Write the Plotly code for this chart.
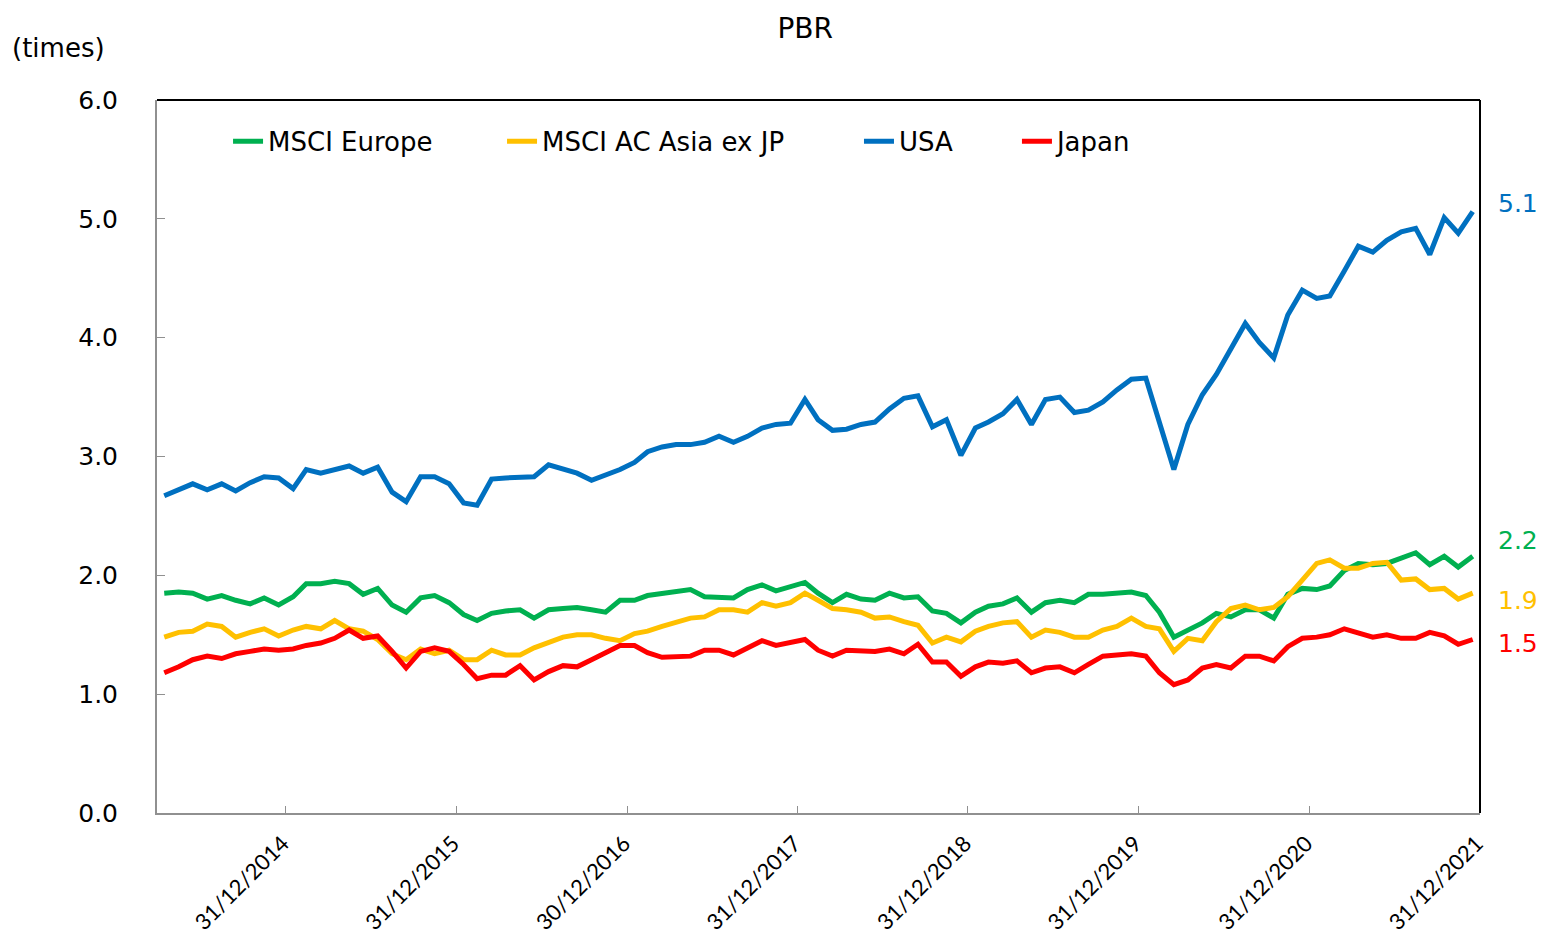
import pandas as pd
import plotly.graph_objects as go

# ---- data -------------------------------------------------------------
dates = pd.date_range("2014-04-30", periods=93, freq="ME")

msci_europe = [1.85, 1.86, 1.85, 1.80, 1.83, 1.79, 1.76, 1.81, 1.75, 1.82,
               1.93, 1.93, 1.95, 1.93, 1.84, 1.89, 1.75, 1.69, 1.81, 1.83,
               1.77, 1.67, 1.62, 1.68, 1.70, 1.71, 1.64, 1.71, 1.72, 1.73,
               1.71, 1.69, 1.79, 1.79, 1.83, 1.85, 1.87, 1.88, 1.82, 1.81,
               1.81, 1.88, 1.92, 1.87, 1.91, 1.94, 1.85, 1.77, 1.84, 1.80,
               1.79, 1.85, 1.81, 1.82, 1.70, 1.68, 1.60, 1.69, 1.74, 1.76,
               1.81, 1.69, 1.77, 1.79, 1.77, 1.84, 1.84, 1.85, 1.86, 1.83,
               1.69, 1.48, 1.54, 1.60, 1.68, 1.65, 1.71, 1.71, 1.64, 1.84,
               1.89, 1.88, 1.91, 2.04, 2.10, 2.09, 2.10, 2.14, 2.19, 2.09,
               2.16, 2.07, 2.16]

msci_asia = [1.48, 1.52, 1.53, 1.59, 1.57, 1.48, 1.52, 1.55, 1.49, 1.54,
             1.57, 1.55, 1.62, 1.55, 1.53, 1.46, 1.34, 1.29, 1.38, 1.34,
             1.37, 1.29, 1.29, 1.37, 1.33, 1.33, 1.39, 1.44, 1.48, 1.50,
             1.50, 1.47, 1.45, 1.51, 1.53, 1.57, 1.60, 1.64, 1.65, 1.71,
             1.71, 1.69, 1.77, 1.74, 1.77, 1.85, 1.79, 1.72, 1.71, 1.69,
             1.64, 1.65, 1.61, 1.58, 1.43, 1.48, 1.44, 1.53, 1.57, 1.60,
             1.61, 1.48, 1.54, 1.52, 1.48, 1.48, 1.54, 1.57, 1.64, 1.57,
             1.55, 1.36, 1.47, 1.45, 1.61, 1.72, 1.75, 1.71, 1.73, 1.82,
             1.96, 2.10, 2.13, 2.06, 2.06, 2.10, 2.11, 1.96, 1.97, 1.88,
             1.89, 1.80, 1.85]

usa = [2.67, 2.72, 2.77, 2.72, 2.77, 2.71, 2.78, 2.83, 2.82, 2.73,
       2.89, 2.86, 2.89, 2.92, 2.86, 2.91, 2.70, 2.62, 2.83, 2.83,
       2.77, 2.61, 2.59, 2.81, 2.82, 2.83, 2.83, 2.93, 2.89, 2.86,
       2.80, 2.84, 2.89, 2.95, 3.04, 3.08, 3.10, 3.10, 3.12, 3.17,
       3.12, 3.17, 3.24, 3.27, 3.28, 3.48, 3.31, 3.22, 3.23, 3.27,
       3.29, 3.40, 3.49, 3.51, 3.25, 3.31, 3.01, 3.24, 3.29, 3.36,
       3.48, 3.27, 3.48, 3.50, 3.37, 3.39, 3.46, 3.56, 3.65, 3.66,
       3.28, 2.89, 3.27, 3.52, 3.69, 3.90, 4.12, 3.96, 3.83, 4.19,
       4.40, 4.33, 4.35, 4.56, 4.77, 4.72, 4.82, 4.89, 4.92, 4.70,
       5.01, 4.88, 5.06]

japan = [1.18, 1.23, 1.29, 1.32, 1.30, 1.34, 1.36, 1.38, 1.37, 1.38,
         1.41, 1.43, 1.47, 1.54, 1.47, 1.49, 1.36, 1.22, 1.36, 1.39,
         1.36, 1.25, 1.13, 1.16, 1.16, 1.24, 1.12, 1.19, 1.24, 1.23,
         1.29, 1.35, 1.41, 1.41, 1.35, 1.31, 1.32, 1.32, 1.37, 1.37,
         1.33, 1.39, 1.45, 1.41, 1.44, 1.46, 1.37, 1.32, 1.37, 1.36,
         1.36, 1.38, 1.34, 1.42, 1.27, 1.27, 1.15, 1.23, 1.27, 1.26,
         1.28, 1.18, 1.22, 1.23, 1.18, 1.25, 1.32, 1.33, 1.34, 1.32,
         1.18, 1.08, 1.12, 1.22, 1.25, 1.22, 1.32, 1.32, 1.28, 1.40,
         1.47, 1.48, 1.50, 1.55, 1.52, 1.48, 1.50, 1.47, 1.47, 1.52,
         1.49, 1.42, 1.46]

tick_labels = ["31/12/2014", "31/12/2015", "30/12/2016", "31/12/2017",
               "31/12/2018", "31/12/2019", "31/12/2020", "31/12/2021"]

series_names = ["MSCI Europe", "MSCI AC Asia ex JP", "USA", "Japan"]
series_values = [msci_europe, msci_asia, usa, japan]
series_colors = ["#00B050", "#FFC000", "#0070C0", "#FF0000"]

# ---- figure -----------------------------------------------------------
FONT = "DejaVu Sans"
fig = go.Figure()

legend_ids = ["legend", "legend2", "legend3", "legend4"]
legend_x = [0.0537, 0.2608, 0.5306, 0.6500]

for name, vals, col, lg in zip(series_names, series_values, series_colors, legend_ids):
    fig.add_trace(go.Scatter(x=dates, y=vals, mode="lines", name=name,
                             line=dict(color=col, width=5), legend=lg))

# tick positions: boundary between December and January (category boundaries)
tick_pos = [pd.Timestamp(f"{int(t[-4:]) + 1}-01-15") for t in tick_labels]

x_start = dates[0] - pd.Timedelta(days=15.5)
x_end = dates[-1] + pd.Timedelta(days=15.6)

fig.update_xaxes(range=[x_start, x_end], tickmode="array", tickvals=tick_pos,
                 ticktext=tick_labels, tickangle=-45, ticks="inside", ticklen=7,
                 tickcolor="#909090", showline=True, linecolor="#909090", linewidth=2,
                 showgrid=False, zeroline=False, ticklabelstandoff=7, ticklabelshift=-3,
                 automargin=False,
                 tickfont=dict(family="Lato", size=22, color="#000000"))
fig.update_yaxes(range=[0, 6], dtick=1, tickformat=".1f", ticks="inside", ticklen=8,
                 tickcolor="#909090", showline=True, linecolor="#909090", linewidth=2,
                 showgrid=False, zeroline=False, ticklabelstandoff=32,
                 automargin=False,
                 tickfont=dict(family=FONT, size=25, color="#000000"))

# top and right frame lines (black)
fig.add_shape(type="line", xref="paper", yref="paper", x0=0, x1=1, y0=1, y1=1,
              line=dict(color="#000000", width=2))
fig.add_shape(type="line", xref="paper", yref="paper", x0=1, x1=1, y0=0, y1=1,
              line=dict(color="#000000", width=2))

# end-value labels
label_offsets = [0.13, -0.06, 0.065, -0.03]
for vals, col, off in zip(series_values, series_colors, label_offsets):
    fig.add_annotation(x=1.029, xref="paper", y=vals[-1] + off, yref="y",
                       text=f"{vals[-1]:.1f}", showarrow=False, xanchor="center",
                       yanchor="middle", font=dict(family=FONT, size=25, color=col))

# unit label
fig.add_annotation(x=-0.111, xref="paper", y=1.073, yref="paper", text="(times)",
                   showarrow=False, xanchor="left", yanchor="middle",
                   font=dict(family=FONT, size=26, color="#000000"))

legend_common = dict(orientation="h", yanchor="middle", y=0.942, xanchor="left",
                     bgcolor="rgba(0,0,0,0)", borderwidth=0,
                     font=dict(family=FONT, size=26, color="#000000"))
layout_legends = {}
for lg, lx in zip(legend_ids, legend_x):
    layout_legends[lg] = dict(legend_common, x=lx)

fig.update_layout(
    width=1542, height=932,
    margin=dict(l=149, r=70, t=92, b=127, autoexpand=False),
    paper_bgcolor="white", plot_bgcolor="white",
    title=dict(text="PBR", x=0.517, xanchor="center", y=0.9785, yanchor="middle",
               font=dict(family=FONT, size=28, color="#000000")),
    showlegend=True,
    **layout_legends,
)

fig.write_html("out.html")
